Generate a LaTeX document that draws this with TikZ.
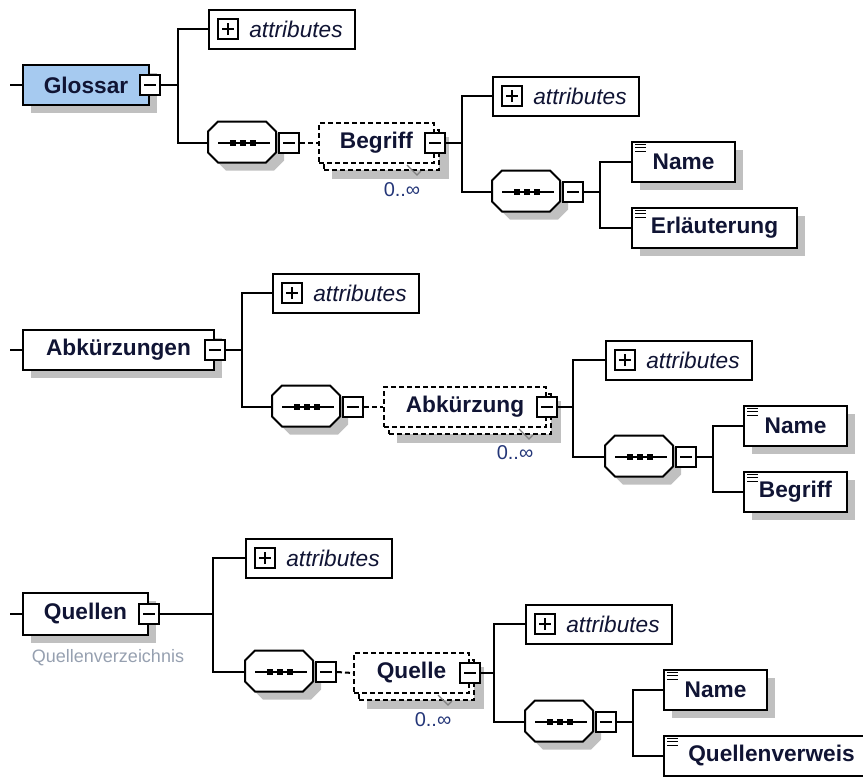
\documentclass[tikz,border=0pt]{standalone}
\usepackage{fontspec}
\setmainfont{Liberation Sans}
\usetikzlibrary{calc,shadows,backgrounds}

\definecolor{rootblue}{RGB}{166,202,240}
\definecolor{shadowgray}{RGB}{192,192,192}
\definecolor{inkblue}{RGB}{16,20,52}
\definecolor{occblue}{RGB}{36,54,120}
\definecolor{notegray}{RGB}{150,160,176}
\definecolor{tickgray}{RGB}{128,128,128}

\tikzset{every picture/.style={line width=1.5pt}}
\tikzset{
  lblfont/.style={font=\fontsize{17}{20}\selectfont\bfseries, text=inkblue},
  elem/.style={draw, fill=white, minimum height=30pt, inner sep=0pt, lblfont,
    drop shadow={shadow xshift=6pt, shadow yshift=-6pt, fill=shadowgray, opacity=1}},
  leaf/.style={elem, path picture={
    \foreach \fr in {0.06,0.145,0.23}
      \draw[line width=1pt] ($(path picture bounding box.north west)!\fr!(path picture bounding box.south west)+(3,0)$) -- ++(11,0);}},
  multi/.style={draw, fill=white, dash pattern=on 3.75pt off 2.25pt, minimum height=30pt, inner sep=0pt, lblfont,
    copy shadow={shadow xshift=3.75pt, shadow yshift=-5.25pt, draw=black, fill=white, dash pattern=on 3.75pt off 2.25pt}},
  attr/.style={draw, fill=white, minimum width=109.5pt, minimum height=29.25pt, inner sep=0pt,
    font=\fontsize{17}{20}\selectfont\itshape, text=inkblue},
  seq/.style={minimum width=51pt, minimum height=30.75pt, inner sep=0pt},
  octshadow/.style={fill=shadowgray},
  octbody/.style={draw, fill=white},
  minus/.style={draw, fill=white, minimum size=15pt, inner sep=0pt, path picture={
    \draw[line width=1.2pt] ($(path picture bounding box.west)!0.2!(path picture bounding box.east)$) -- ($(path picture bounding box.east)!0.2!(path picture bounding box.west)$);}},
  plus/.style={draw, fill=white, minimum size=15pt, inner sep=0pt, path picture={
    \draw[line width=1.2pt] ($(path picture bounding box.west)!0.2!(path picture bounding box.east)$) -- ($(path picture bounding box.east)!0.2!(path picture bounding box.west)$);
    \draw[line width=1.2pt] ($(path picture bounding box.south)!0.2!(path picture bounding box.north)$) -- ($(path picture bounding box.north)!0.2!(path picture bounding box.south)$);}},
  dashline/.style={dash pattern=on 3.75pt off 2.25pt},
  occurs/.style={font=\fontsize{15}{18}\selectfont, text=occblue},
  occtick/.style={draw=tickgray, line width=0.9pt},
  note/.style={font=\fontsize{13.5}{16}\selectfont, text=notegray}
}

% octagon of a sequence compositor, drawn round the node #1
\newcommand\seqglyph[1]{%
  \foreach \s/\st in {8/octshadow,0/octbody}
    \path[\st] ($(#1.north west)+(10+\s,\s)$) -- ++(48,0) -- ++(10,10) -- ++(0,21) -- ++(-10,10)
      -- ++(-48,0) -- ++(-10,-10) -- ++(0,-21) -- cycle;
  \draw[line width=1.2pt] ($(#1.west)+(10,0)$) -- ($(#1.east)+(-8,0)$);
  \foreach \dx in {-10,0,10}
    \fill[black] ($(#1.center)+(\dx-3,-3)$) rectangle ++(6,6);
}
% grey shadow behind a repeated element #1
\newcommand\multishadow[1]{%
  \begin{scope}[on background layer]
    \fill[shadowgray] ($(#1.north west)+(14,15)$) rectangle ($(#1.south east)+(14,15)$);
  \end{scope}
}

\begin{document}
\begin{tikzpicture}[x=0.75pt,y=0.75pt,yscale=-1,xscale=1]
\useasboundingbox (0,0) rectangle (863,776);

%Glossar
\coordinate (glossarIn) at (10,85);
\coordinate (glossarFork) at (178,85);
\coordinate (begriffFork) at (462,143);
\coordinate (begriffSeqFork) at (600,192);
\node[elem, fill=rootblue, minimum width=94.5pt, anchor=west] (glossar) at (22,85) {Glossar};
\node[minus] (glossarMinus) at (glossar.east) {};
\node[attr, anchor=west] (glossarAttr) at (208,29) {\hspace*{21pt}attributes};
\node[plus] (glossarPlus) at (228,29) {};
\node[seq, anchor=west] (glossarSeq) at (208,143) {};
\seqglyph{glossarSeq}
\node[minus, anchor=west] (glossarSeqMinus) at (glossarSeq.east) {};
\node[multi, minimum width=86.25pt, anchor=west] (begriff) at (318,143) {Begriff};
\multishadow{begriff}
\node[minus] (begriffMinus) at (begriff.east) {};
\draw[occtick] (407,165) -- (417,175) -- (421,171);
% Text Node
\node[occurs] (begriffOcc) at (402,190) {0..∞};
\node[attr, anchor=west] (begriffAttr) at (492,96) {\hspace*{21pt}attributes};
\node[plus] (begriffPlus) at (512,96) {};
\node[seq, anchor=west] (begriffSeq) at (492,192) {};
\seqglyph{begriffSeq}
\node[minus, anchor=west] (begriffSeqMinus) at (begriffSeq.east) {};
\node[leaf, minimum width=77.25pt, anchor=west] (glName) at (631,162) {Name};
\node[leaf, minimum width=123.75pt, anchor=west] (glErl) at (631,228) {Erläuterung};

\draw (glossarIn) -- (glossar.west);
\draw (glossarMinus.east) -- (glossarFork);
\draw (glossarAttr.west) -| (glossarFork) |- (glossarSeq.west);
\draw[dashline] (glossarSeqMinus.east) -- (begriff.west);
\draw (begriffMinus.east) -- (begriffFork);
\draw (begriffAttr.west) -| (begriffFork) |- (begriffSeq.west);
\draw (begriffSeqMinus.east) -- (begriffSeqFork);
\draw (glName.west) -| (begriffSeqFork) |- (glErl.west);

%Abkuerzungen
\coordinate (abkIn) at (10,350);
\coordinate (abkFork) at (242,350);
\coordinate (abkzFork) at (573,407);
\coordinate (abkzSeqFork) at (713,457);
\node[elem, minimum width=143.25pt, anchor=west] (abk) at (22,350) {Abkürzungen};
\node[minus] (abkMinus) at (abk.east) {};
\node[attr, anchor=west] (abkAttr) at (272,293) {\hspace*{21pt}attributes};
\node[plus] (abkPlus) at (292,293) {};
\node[seq, anchor=west] (abkSeq) at (272,407) {};
\seqglyph{abkSeq}
\node[minus, anchor=west] (abkSeqMinus) at (abkSeq.east) {};
\node[multi, minimum width=121.5pt, anchor=west] (abkz) at (383,407) {Abkürzung};
\multishadow{abkz}
\node[minus] (abkzMinus) at (abkz.east) {};
\draw[occtick] (519,429) -- (529,439) -- (533,435);
% Text Node
\node[occurs] (abkzOcc) at (515,453) {0..∞};
\node[attr, anchor=west] (abkzAttr) at (605,360) {\hspace*{21pt}attributes};
\node[plus] (abkzPlus) at (625,360) {};
\node[seq, anchor=west] (abkzSeq) at (605,457) {};
\seqglyph{abkzSeq}
\node[minus, anchor=west] (abkzSeqMinus) at (abkzSeq.east) {};
\node[leaf, minimum width=77.25pt, anchor=west] (abkName) at (743,426) {Name};
\node[leaf, minimum width=77.25pt, anchor=west] (abkBegriff) at (743,492) {Begriff};

\draw (abkIn) -- (abk.west);
\draw (abkMinus.east) -- (abkFork);
\draw (abkAttr.west) -| (abkFork) |- (abkSeq.west);
\draw[dashline] (abkSeqMinus.east) -- (abkz.west);
\draw (abkzMinus.east) -- (abkzFork);
\draw (abkzAttr.west) -| (abkzFork) |- (abkzSeq.west);
\draw (abkzSeqMinus.east) -- (abkzSeqFork);
\draw (abkName.west) -| (abkzSeqFork) |- (abkBegriff.west);

%Quellen
\coordinate (quellenIn) at (10,614);
\coordinate (quellenFork) at (213,614);
\coordinate (quelleFork) at (494,673);
\coordinate (quelleSeqFork) at (633,722);
\node[elem, minimum width=93.75pt, minimum height=31.5pt, anchor=west] (quellen) at (22,614) {Quellen};
\node[minus] (quellenMinus) at (quellen.east) {};
% Text Node
\node[note] (quellenNote) at (108,658) {Quellenverzeichnis};
\node[attr, anchor=west] (quellenAttr) at (245,558) {\hspace*{21pt}attributes};
\node[plus] (quellenPlus) at (265,558) {};
\node[seq, anchor=west] (quellenSeq) at (245,672) {};
\seqglyph{quellenSeq}
\node[minus, anchor=west] (quellenSeqMinus) at (quellenSeq.east) {};
\node[multi, minimum width=86.25pt, anchor=west] (quelle) at (353,673) {Quelle};
\multishadow{quelle}
\node[minus] (quelleMinus) at (quelle.east) {};
\draw[occtick] (438,695) -- (448,705) -- (452,701);
% Text Node
\node[occurs] (quelleOcc) at (433,720) {0..∞};
\node[attr, anchor=west] (quelleAttr) at (525,624) {\hspace*{21pt}attributes};
\node[plus] (quellePlus) at (545,624) {};
\node[seq, anchor=west] (quelleSeq) at (525,722) {};
\seqglyph{quelleSeq}
\node[minus, anchor=west] (quelleSeqMinus) at (quelleSeq.east) {};
\node[leaf, minimum width=77.25pt, anchor=west] (qName) at (663,690) {Name};
\node[leaf, minimum width=161.25pt, anchor=west] (qVerweis) at (663,756) {Quellenverweis};

\draw (quellenIn) -- (quellen.west);
\draw (quellenMinus.east) -- (quellenFork);
\draw (quellenAttr.west) -| (quellenFork) |- (quellenSeq.west);
\draw[dashline] (quellenSeqMinus.east) -- (quelle.west);
\draw (quelleMinus.east) -- (quelleFork);
\draw (quelleAttr.west) -| (quelleFork) |- (quelleSeq.west);
\draw (quelleSeqMinus.east) -- (quelleSeqFork);
\draw (qName.west) -| (quelleSeqFork) |- (qVerweis.west);

\end{tikzpicture}
\end{document}
